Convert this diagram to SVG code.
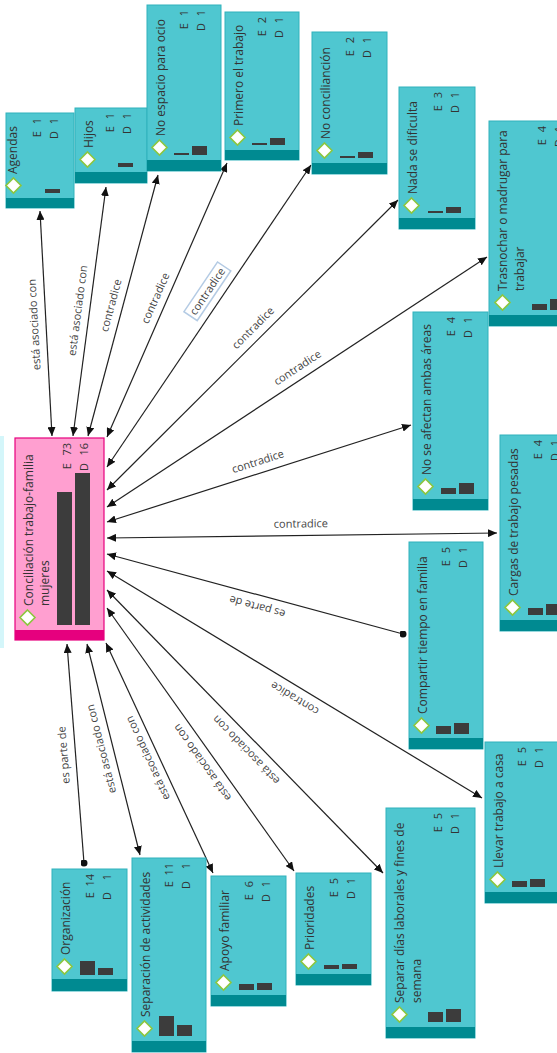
<svg xmlns="http://www.w3.org/2000/svg" width="557" height="1053" viewBox="0 0 557 1053">
<style>
.box{fill:#4fc7d0;stroke:#30b2bc;stroke-width:1}
.band{fill:#008a91}
.pbox{fill:#ff9fd0;stroke:#e6007e;stroke-width:1.2}
.pband{fill:#e6007e}
.t{font-family:'Open Sans','Noto Sans',sans-serif;font-size:12px;fill:#333}
.c{font-family:'Open Sans','Noto Sans',sans-serif;font-size:11px;fill:#333;text-anchor:end}
.bar{fill:#3c3c3c}
.dm{fill:#fff;stroke:#8cc63f;stroke-width:1.6}
.ln{fill:none;stroke:#222;stroke-width:1.2}
.lb{font-family:'Open Sans','Noto Sans',sans-serif;font-size:11px;fill:#444;text-anchor:middle}
.lbox{fill:#fff;stroke:#b4cbe4;stroke-width:1.5}
</style>
<defs>
<marker id="arr" viewBox="0 0 9 8" refX="9" refY="4" markerWidth="9" markerHeight="8" markerUnits="userSpaceOnUse" orient="auto-start-reverse"><path d="M0,0 L9,4 L0,8 z" fill="#111"/></marker>
<marker id="dot" viewBox="0 0 8 8" refX="4" refY="4" markerWidth="7" markerHeight="7" markerUnits="userSpaceOnUse"><circle cx="4" cy="4" r="4" fill="#111"/></marker>
</defs>
<rect x="0" y="436" width="4" height="212" fill="#d4f6fa"/>
<g id="connectors">
<path class="ln" d="M40,211 L52,436" marker-start="url(#arr)" marker-end="url(#arr)"/>
<path class="ln" d="M106,187 L73,436" marker-start="url(#arr)" marker-end="url(#arr)"/>
<path class="ln" d="M158,175 L88,436" marker-start="url(#arr)" marker-end="url(#arr)"/>
<path class="ln" d="M227,163 L107,437" marker-start="url(#arr)" marker-end="url(#arr)"/>
<path class="ln" d="M311,165 L107,467" marker-start="url(#arr)" marker-end="url(#arr)"/>
<path class="ln" d="M398,200 L107,490" marker-start="url(#arr)" marker-end="url(#arr)"/>
<path class="ln" d="M487,257 L107,507" marker-start="url(#arr)" marker-end="url(#arr)"/>
<path class="ln" d="M411,425 L107,522" marker-start="url(#arr)" marker-end="url(#arr)"/>
<path class="ln" d="M497,533 L107,538" marker-start="url(#arr)" marker-end="url(#arr)"/>
<path class="ln" d="M403,634 L107,554" marker-start="url(#dot)" marker-end="url(#arr)"/>
<path class="ln" d="M482,798 L107,571" marker-start="url(#arr)" marker-end="url(#arr)"/>
<path class="ln" d="M383,873 L107,590" marker-start="url(#arr)" marker-end="url(#arr)"/>
<path class="ln" d="M294,871 L107,608" marker-start="url(#arr)" marker-end="url(#arr)"/>
<path class="ln" d="M213,873 L106,643" marker-start="url(#arr)" marker-end="url(#arr)"/>
<path class="ln" d="M140,855 L87,644" marker-start="url(#arr)" marker-end="url(#arr)"/>
<path class="ln" d="M84,863 L67,644" marker-start="url(#dot)" marker-end="url(#arr)"/>
<text class="lb" transform="translate(46,324) rotate(-93.07)" y="-8">está asociado con</text>
<text class="lb" transform="translate(89.4,312) rotate(-82.45)" y="-8">está asociado con</text>
<text class="lb" transform="translate(122.4,308.4) rotate(-74.93)" y="-8">contradice</text>
<text class="lb" transform="translate(166.2,302.9) rotate(-66.19)" y="-8">contradice</text>
<g transform="translate(219.8,299.7) rotate(-55.99)"><rect class="lbox" x="-30" y="-23" width="60" height="16"/><text class="lb" y="-11">contradice</text></g>
<text class="lb" transform="translate(261.3,336.2) rotate(-44.9)" y="-8">contradice</text>
<text class="lb" transform="translate(303.9,377.5) rotate(-33.34)" y="-8">contradice</text>
<text class="lb" transform="translate(261.4,472.7) rotate(-17.7)" y="-8">contradice</text>
<text class="lb" transform="translate(301,535.5) rotate(-0.73)" y="-8">contradice</text>
<text class="lb" transform="translate(260.4,595.5) rotate(-164.9)" y="-8">es parte de</text>
<text class="lb" transform="translate(300.8,688.3) rotate(-148.8)" y="-8">contradice</text>
<text class="lb" transform="translate(254.5,741.8) rotate(-134.2)" y="-8">está asociado con</text>
<text class="lb" transform="translate(211.8,755.6) rotate(-125.4)" y="-8">está asociado con</text>
<text class="lb" transform="translate(158.5,753.2) rotate(-114.6)" y="-8">está asociado con</text>
<text class="lb" transform="translate(112.7,746) rotate(-104.3)" y="-8">está asociado con</text>
<text class="lb" transform="translate(75.5,754.2) rotate(-94.46)" y="-8">es parte de</text>
</g>
<g id="n-conciliacion">
<rect class="pbox" x="15" y="438" width="89" height="202"/>
<rect class="pband" x="15" y="630" width="89" height="10"/>
<text class="t" transform="translate(33,606) rotate(-90)">Conciliación trabajo-familia</text>
<text class="t" transform="translate(49,606) rotate(-90)">mujeres</text>
<polygon class="dm" points="27.5,610 35,617.5 27.5,625 20,617.5"/>
<rect class="bar" x="57" y="492" width="15" height="133"/>
<rect class="bar" x="75" y="473" width="15" height="152"/>
<text class="c" transform="translate(71,443) rotate(-90)">73</text>
<text class="c" transform="translate(71,463) rotate(-90)">E</text>
<text class="c" transform="translate(88,443) rotate(-90)">16</text>
<text class="c" transform="translate(88,463) rotate(-90)">D</text>
</g>
<g id="n-agendas">
<rect class="box" x="6" y="113" width="68" height="95"/>
<rect class="band" x="6" y="198" width="68" height="10"/>
<text class="t" transform="translate(17,174) rotate(-90)">Agendas</text>
<polygon class="dm" points="13.5,178 21,185.5 13.5,193 6,185.5"/>
<rect class="bar" x="45" y="189" width="15" height="4"/>
<text class="c" transform="translate(41,118) rotate(-90)">1</text>
<text class="c" transform="translate(41,131) rotate(-90)">E</text>
<text class="c" transform="translate(58,118) rotate(-90)">1</text>
<text class="c" transform="translate(58,131) rotate(-90)">D</text>
</g>
<g id="n-hijos">
<rect class="box" x="75" y="108" width="72" height="75"/>
<rect class="band" x="75" y="172" width="72" height="11"/>
<text class="t" transform="translate(93,148) rotate(-90)">Hijos</text>
<polygon class="dm" points="87.5,152 95,159.5 87.5,167 80,159.5"/>
<rect class="bar" x="118" y="163" width="15" height="4"/>
<text class="c" transform="translate(114,113) rotate(-90)">1</text>
<text class="c" transform="translate(114,126) rotate(-90)">E</text>
<text class="c" transform="translate(131,113) rotate(-90)">1</text>
<text class="c" transform="translate(131,126) rotate(-90)">D</text>
</g>
<g id="n-noespacio">
<rect class="box" x="147" y="5" width="74" height="166"/>
<rect class="band" x="147" y="160" width="74" height="11"/>
<text class="t" transform="translate(165,136) rotate(-90)">No espacio para ocio</text>
<polygon class="dm" points="159.5,140 167,147.5 159.5,155 152,147.5"/>
<rect class="bar" x="174" y="153" width="15" height="2"/>
<rect class="bar" x="192" y="146" width="15" height="9"/>
<text class="c" transform="translate(188,10) rotate(-90)">1</text>
<text class="c" transform="translate(188,23) rotate(-90)">E</text>
<text class="c" transform="translate(205,10) rotate(-90)">1</text>
<text class="c" transform="translate(205,23) rotate(-90)">D</text>
</g>
<g id="n-primero">
<rect class="box" x="225" y="12" width="74" height="148"/>
<rect class="band" x="225" y="150" width="74" height="10"/>
<text class="t" transform="translate(243,126) rotate(-90)">Primero el trabajo</text>
<polygon class="dm" points="237.5,130 245,137.5 237.5,145 230,137.5"/>
<rect class="bar" x="252" y="143" width="15" height="2"/>
<rect class="bar" x="270" y="138" width="15" height="7"/>
<text class="c" transform="translate(266,17) rotate(-90)">2</text>
<text class="c" transform="translate(266,30) rotate(-90)">E</text>
<text class="c" transform="translate(283,17) rotate(-90)">1</text>
<text class="c" transform="translate(283,30) rotate(-90)">D</text>
</g>
<g id="n-noconciliancion">
<rect class="box" x="312" y="32" width="75" height="142"/>
<rect class="band" x="312" y="163" width="75" height="11"/>
<text class="t" transform="translate(330,139) rotate(-90)">No concilianción</text>
<polygon class="dm" points="324.5,143 332,150.5 324.5,158 317,150.5"/>
<rect class="bar" x="340" y="156" width="15" height="2"/>
<rect class="bar" x="358" y="152" width="15" height="6"/>
<text class="c" transform="translate(354,37) rotate(-90)">2</text>
<text class="c" transform="translate(354,50) rotate(-90)">E</text>
<text class="c" transform="translate(371,37) rotate(-90)">1</text>
<text class="c" transform="translate(371,50) rotate(-90)">D</text>
</g>
<g id="n-nada">
<rect class="box" x="399" y="87" width="76" height="142"/>
<rect class="band" x="399" y="218" width="76" height="11"/>
<text class="t" transform="translate(417,194) rotate(-90)">Nada se dificulta</text>
<polygon class="dm" points="411.5,198 419,205.5 411.5,213 404,205.5"/>
<rect class="bar" x="428" y="211" width="15" height="2"/>
<rect class="bar" x="446" y="207" width="15" height="6"/>
<text class="c" transform="translate(442,92) rotate(-90)">3</text>
<text class="c" transform="translate(442,105) rotate(-90)">E</text>
<text class="c" transform="translate(459,92) rotate(-90)">1</text>
<text class="c" transform="translate(459,105) rotate(-90)">D</text>
</g>
<g id="n-trasnochar">
<rect class="box" x="489" y="121" width="90" height="205"/>
<rect class="band" x="489" y="315" width="90" height="11"/>
<text class="t" transform="translate(507,291) rotate(-90)">Trasnochar o madrugar para</text>
<text class="t" transform="translate(524,291) rotate(-90)">trabajar</text>
<polygon class="dm" points="502.5,295 510,302.5 502.5,310 495,302.5"/>
<rect class="bar" x="532" y="304" width="15" height="6"/>
<rect class="bar" x="550" y="299" width="15" height="11"/>
<text class="c" transform="translate(546,126) rotate(-90)">4</text>
<text class="c" transform="translate(546,139) rotate(-90)">E</text>
<text class="c" transform="translate(563,126) rotate(-90)">1</text>
<text class="c" transform="translate(563,139) rotate(-90)">D</text>
</g>
<g id="n-noafectan">
<rect class="box" x="413" y="312" width="75" height="198"/>
<rect class="band" x="413" y="499" width="75" height="11"/>
<text class="t" transform="translate(431,475) rotate(-90)">No se afectan ambas áreas</text>
<polygon class="dm" points="425.5,479 433,486.5 425.5,494 418,486.5"/>
<rect class="bar" x="441" y="488" width="15" height="6"/>
<rect class="bar" x="459" y="483" width="15" height="11"/>
<text class="c" transform="translate(455,317) rotate(-90)">4</text>
<text class="c" transform="translate(455,330) rotate(-90)">E</text>
<text class="c" transform="translate(472,317) rotate(-90)">1</text>
<text class="c" transform="translate(472,330) rotate(-90)">D</text>
</g>
<g id="n-cargas">
<rect class="box" x="500" y="435" width="75" height="196"/>
<rect class="band" x="500" y="620" width="75" height="11"/>
<text class="t" transform="translate(518,596) rotate(-90)">Cargas de trabajo pesadas</text>
<polygon class="dm" points="512.5,600 520,607.5 512.5,615 505,607.5"/>
<rect class="bar" x="528" y="608" width="15" height="7"/>
<rect class="bar" x="546" y="604" width="15" height="11"/>
<text class="c" transform="translate(542,440) rotate(-90)">4</text>
<text class="c" transform="translate(542,453) rotate(-90)">E</text>
<text class="c" transform="translate(559,440) rotate(-90)">1</text>
<text class="c" transform="translate(559,453) rotate(-90)">D</text>
</g>
<g id="n-compartir">
<rect class="box" x="409" y="542" width="74" height="207"/>
<rect class="band" x="409" y="738" width="74" height="11"/>
<text class="t" transform="translate(427,714) rotate(-90)">Compartir tiempo en familia</text>
<polygon class="dm" points="421.5,718 429,725.5 421.5,733 414,725.5"/>
<rect class="bar" x="436" y="726" width="15" height="8"/>
<rect class="bar" x="454" y="723" width="15" height="11"/>
<text class="c" transform="translate(450,547) rotate(-90)">5</text>
<text class="c" transform="translate(450,560) rotate(-90)">E</text>
<text class="c" transform="translate(467,547) rotate(-90)">1</text>
<text class="c" transform="translate(467,560) rotate(-90)">D</text>
</g>
<g id="n-llevar">
<rect class="box" x="485" y="742" width="74" height="161"/>
<rect class="band" x="485" y="892" width="74" height="11"/>
<text class="t" transform="translate(503,868) rotate(-90)">Llevar trabajo a casa</text>
<polygon class="dm" points="497.5,872 505,879.5 497.5,887 490,879.5"/>
<rect class="bar" x="512" y="881" width="15" height="6"/>
<rect class="bar" x="530" y="879" width="15" height="8"/>
<text class="c" transform="translate(526,747) rotate(-90)">5</text>
<text class="c" transform="translate(526,760) rotate(-90)">E</text>
<text class="c" transform="translate(543,747) rotate(-90)">1</text>
<text class="c" transform="translate(543,760) rotate(-90)">D</text>
</g>
<g id="n-separar">
<rect class="box" x="386" y="808" width="89" height="230"/>
<rect class="band" x="386" y="1027" width="89" height="11"/>
<text class="t" transform="translate(404,1003) rotate(-90)">Separar días laborales y fines de</text>
<text class="t" transform="translate(421,1003) rotate(-90)">semana</text>
<polygon class="dm" points="399.5,1007 407,1014.5 399.5,1022 392,1014.5"/>
<rect class="bar" x="428" y="1012" width="15" height="10"/>
<rect class="bar" x="446" y="1009" width="15" height="13"/>
<text class="c" transform="translate(442,813) rotate(-90)">5</text>
<text class="c" transform="translate(442,826) rotate(-90)">E</text>
<text class="c" transform="translate(459,813) rotate(-90)">1</text>
<text class="c" transform="translate(459,826) rotate(-90)">D</text>
</g>
<g id="n-prioridades">
<rect class="box" x="296" y="873" width="75" height="112"/>
<rect class="band" x="296" y="974" width="75" height="11"/>
<text class="t" transform="translate(314,950) rotate(-90)">Prioridades</text>
<polygon class="dm" points="308.5,954 316,961.5 308.5,969 301,961.5"/>
<rect class="bar" x="324" y="965" width="15" height="4"/>
<rect class="bar" x="342" y="964" width="15" height="5"/>
<text class="c" transform="translate(338,878) rotate(-90)">5</text>
<text class="c" transform="translate(338,891) rotate(-90)">E</text>
<text class="c" transform="translate(355,878) rotate(-90)">1</text>
<text class="c" transform="translate(355,891) rotate(-90)">D</text>
</g>
<g id="n-apoyo">
<rect class="box" x="211" y="876" width="75" height="130"/>
<rect class="band" x="211" y="995" width="75" height="11"/>
<text class="t" transform="translate(229,971) rotate(-90)">Apoyo familiar</text>
<polygon class="dm" points="223.5,975 231,982.5 223.5,990 216,982.5"/>
<rect class="bar" x="239" y="984" width="15" height="6"/>
<rect class="bar" x="257" y="983" width="15" height="7"/>
<text class="c" transform="translate(253,881) rotate(-90)">6</text>
<text class="c" transform="translate(253,894) rotate(-90)">E</text>
<text class="c" transform="translate(270,881) rotate(-90)">1</text>
<text class="c" transform="translate(270,894) rotate(-90)">D</text>
</g>
<g id="n-separacion">
<rect class="box" x="132" y="858" width="74" height="194"/>
<rect class="band" x="132" y="1041" width="74" height="11"/>
<text class="t" transform="translate(150,1017) rotate(-90)">Separación de actividades</text>
<polygon class="dm" points="144.5,1021 152,1028.5 144.5,1036 137,1028.5"/>
<rect class="bar" x="159" y="1016" width="15" height="20"/>
<rect class="bar" x="177" y="1025" width="15" height="11"/>
<text class="c" transform="translate(173,863) rotate(-90)">11</text>
<text class="c" transform="translate(173,881) rotate(-90)">E</text>
<text class="c" transform="translate(190,863) rotate(-90)">1</text>
<text class="c" transform="translate(190,881) rotate(-90)">D</text>
</g>
<g id="n-organizacion">
<rect class="box" x="52" y="869" width="75" height="122"/>
<rect class="band" x="52" y="979" width="75" height="12"/>
<text class="t" transform="translate(70,955) rotate(-90)">Organización</text>
<polygon class="dm" points="64.5,959 72,966.5 64.5,974 57,966.5"/>
<rect class="bar" x="80" y="961" width="15" height="14"/>
<rect class="bar" x="98" y="968" width="15" height="7"/>
<text class="c" transform="translate(94,874) rotate(-90)">14</text>
<text class="c" transform="translate(94,892) rotate(-90)">E</text>
<text class="c" transform="translate(111,874) rotate(-90)">1</text>
<text class="c" transform="translate(111,892) rotate(-90)">D</text>
</g>
</svg>
